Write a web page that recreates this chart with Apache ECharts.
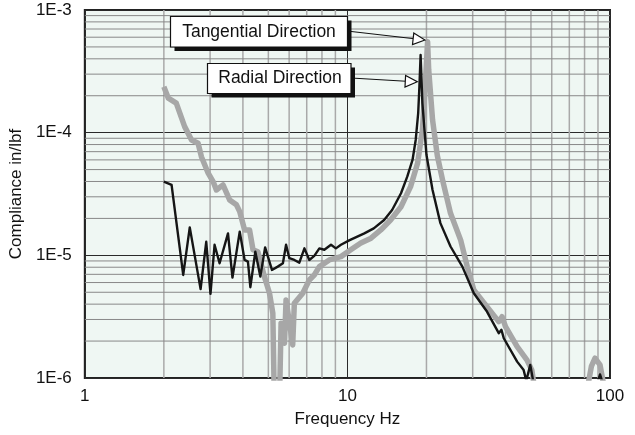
<!DOCTYPE html>
<html>
<head>
<meta charset="utf-8">
<script src="https://cdn.jsdelivr.net/npm/echarts@6/dist/echarts.min.js"></script>
<style>
html,body{margin:0;padding:0;background:#fff;}
#chart{width:635px;height:435px;}
</style>
</head>
<body>
<div id="chart"></div>
<script>
// ---- Data ----
const tangentialFreq = [2.00,2.08,2.23,2.40,2.55,2.70,2.78,2.95,3.08,3.17,3.36,3.56,3.78,3.89,4.06,4.24,4.37,4.56,4.83,5.05,5.20,5.28,5.50,5.59,5.76,5.84,6.19,6.28,6.76,7.16,7.48,7.82,8.53,9.45,10.3,11.25,12.3,13.4,14.6,16.0,17.4,18.5,19.3,19.7,20.0,20.2,20.4,21.1,22.0,23.1,24.7,27.0,28.6,30.3,34.0,37.7,38.8,40.0,44.3,48.3,50.4,51.5,60,80,83,85,87.7,91.6,94.0,100];
const tangentialVal = [2.37e-4,1.91e-4,1.74e-4,1.12e-4,8.72e-5,8.20e-5,6.37e-5,4.67e-5,3.99e-5,3.41e-5,3.75e-5,2.83e-5,2.58e-5,2.27e-5,1.61e-5,1.61e-5,1.11e-5,1.07e-5,6.71e-6,4.91e-6,3.37e-6,5e-7,5e-7,2.80e-6,1.92e-6,4.33e-6,1.86e-6,4.07e-6,4.91e-6,6.30e-6,6.92e-6,8.09e-6,9.17e-6,9.76e-6,1.11e-5,1.26e-5,1.38e-5,1.61e-5,1.94e-5,2.49e-5,3.63e-5,5.63e-5,1.05e-4,2.10e-4,3.68e-4,5.52e-4,3.24e-4,1.27e-4,6.5e-5,4.0e-5,2.2e-5,1.33e-5,8.09e-6,5.22e-6,3.82e-6,2.88e-6,3.16e-6,2.62e-6,1.80e-6,1.40e-6,1.16e-6,8.5e-7,5e-7,5e-7,9.5e-7,1.25e-6,1.45e-6,1.28e-6,9.5e-7,5e-7];

const radialFreq = [2.00,2.14,2.37,2.51,2.76,2.90,3.01,3.12,3.26,3.51,3.65,3.89,4.06,4.18,4.27,4.46,4.66,4.86,5.16,5.43,5.68,5.84,6.01,6.28,6.56,6.86,7.16,7.48,7.82,8.17,8.66,9.04,9.45,10.2,10.6,11.6,12.6,13.8,14.8,16.0,16.9,17.7,18.2,18.6,18.8,19.0,19.3,20.0,21.1,22.6,24.7,27.4,30.3,34.0,37.7,38.6,39.4,44.3,46.9,48.0,49.7,51.2,60,80,89.5,91.6,94.0,100];
const radialVal = [3.99e-5,3.75e-5,6.92e-6,1.69e-5,5.30e-6,1.29e-5,4.85e-6,1.22e-5,8.62e-6,1.51e-5,6.58e-6,1.56e-5,9.17e-6,8.89e-6,5.50e-6,1.07e-5,6.71e-6,1.16e-5,7.60e-6,8.09e-6,8.62e-6,1.22e-5,9.47e-6,9.17e-6,8.72e-6,1.14e-5,9.17e-6,9.89e-6,1.14e-5,1.11e-5,1.22e-5,1.14e-5,1.22e-5,1.33e-5,1.38e-5,1.51e-5,1.66e-5,1.94e-5,2.34e-5,3.21e-5,4.38e-5,5.99e-5,8.72e-5,1.44e-4,2.37e-4,4.30e-4,1.74e-4,6.6e-5,3.41e-5,1.83e-5,1.18e-5,8.09e-6,4.91e-6,3.48e-6,2.32e-6,2.47e-6,2.11e-6,1.36e-6,1.16e-6,9.5e-7,1.28e-6,9.0e-7,5e-7,5e-7,9e-7,1.07e-6,9e-7,5e-7];

const xMinorTicks = [2,3,4,5,6,7,8,9,20,30,40,50,60,70,80,90];
const yMinorTicks = [2e-6,3e-6,4e-6,5e-6,6e-6,7e-6,8e-6,9e-6,2e-5,3e-5,4e-5,5e-5,6e-5,7e-5,8e-5,9e-5,2e-4,3e-4,4e-4,5e-4,6e-4,7e-4,8e-4,9e-4];
const xRange = [1, 100];
const yRange = [1e-6, 1e-3];

const xAxisTitle = 'Frequency Hz';
const yAxisTitle = 'Compliance in/lbf';
const labelTangential = 'Tangential Direction';
const labelRadial = 'Radial Direction';

// ---- Chart ----
const FONT = 'Liberation Sans, Arial, Helvetica, sans-serif';
const zip = (a, b) => a.map((v, i) => [v, b[i]]);

const gridSeries = [];
xMinorTicks.forEach(v => gridSeries.push({
  type: 'line', z: 1, silent: true, symbol: 'none', showSymbol: false, clip: true,
  data: [[v, yRange[0]], [v, yRange[1]]],
  lineStyle: {color: '#a9a9a9', width: 1.5}
}));
yMinorTicks.forEach(v => gridSeries.push({
  type: 'line', z: 1, silent: true, symbol: 'none', showSymbol: false, clip: true,
  data: [[xRange[0], v], [xRange[1], v]],
  lineStyle: {color: '#888888', width: 1}
}));

const chart = echarts.init(document.getElementById('chart'), null, {renderer: 'canvas'});
chart.setOption({
  animation: false,
  backgroundColor: '#ffffff',
  textStyle: {fontFamily: FONT},
  tooltip: {show: false},
  grid: {left: 83, right: 25, top: 10, bottom: 57, show: true, backgroundColor: '#eff7f3', borderColor: '#222', borderWidth: 2},
  xAxis: {
    type: 'log', logBase: 10, min: xRange[0], max: xRange[1],
    name: xAxisTitle, nameLocation: 'middle', nameGap: 33,
    nameTextStyle: {fontSize: 17, color: '#111', fontFamily: FONT},
    axisLine: {show: false}, axisTick: {show: false},
    axisLabel: {fontSize: 17, color: '#111', margin: 10, fontFamily: FONT, formatter: v => String(Math.round(v))},
    splitLine: {show: true, lineStyle: {color: '#2a2a2a', width: 1}}
  },
  yAxis: {
    type: 'log', logBase: 10, min: yRange[0], max: yRange[1],
    name: yAxisTitle, nameLocation: 'middle', nameGap: 46, nameRotate: 90,
    nameTextStyle: {fontSize: 17, color: '#111', fontFamily: FONT},
    axisLine: {show: false}, axisTick: {show: false},
    axisLabel: {fontSize: 17, color: '#111', margin: 13, fontFamily: FONT, formatter: v => '1E' + Math.round(Math.log10(v))},
    splitLine: {show: true, lineStyle: {color: '#2a2a2a', width: 1}}
  },
  series: gridSeries.concat([
    {
      name: labelTangential, type: 'line', z: 3, data: zip(tangentialFreq, tangentialVal),
      showSymbol: false, symbol: 'none', smooth: false,
      lineStyle: {color: '#a7a7a7', width: 5.5, join: 'round'}
    },
    {
      name: labelRadial, type: 'line', z: 4, data: zip(radialFreq, radialVal),
      showSymbol: false, symbol: 'none', smooth: false,
      lineStyle: {color: '#151515', width: 2.4, join: 'round'}
    }
  ]),
  graphic: [
    {type: 'rect', z: 100, shape: {x: 174.5, y: 20.5, width: 177, height: 30.5}, style: {fill: '#111'}},
    {type: 'rect', z: 101, shape: {x: 170.5, y: 16.5, width: 177, height: 30.5}, style: {fill: '#fff', stroke: '#111', lineWidth: 1.2}},
    {type: 'text', z: 102, x: 259, y: 32, style: {text: labelTangential, fontSize: 17.5, fontFamily: FONT, fill: '#111', align: 'center', verticalAlign: 'middle'}},
    {type: 'line', z: 100, shape: {x1: 347, y1: 31, x2: 413, y2: 38.6}, style: {stroke: '#111', lineWidth: 1}},
    {type: 'polygon', z: 101, shape: {points: [[425, 40], [412.5, 44.5], [413.8, 33]]}, style: {fill: '#fff', stroke: '#111', lineWidth: 1.2}},

    {type: 'rect', z: 100, shape: {x: 211.5, y: 67.5, width: 143.5, height: 30}, style: {fill: '#111'}},
    {type: 'rect', z: 101, shape: {x: 207.5, y: 63.5, width: 143.5, height: 30}, style: {fill: '#fff', stroke: '#111', lineWidth: 1.2}},
    {type: 'text', z: 102, x: 280, y: 78.5, style: {text: labelRadial, fontSize: 17.5, fontFamily: FONT, fill: '#111', align: 'center', verticalAlign: 'middle'}},
    {type: 'line', z: 100, shape: {x1: 351, y1: 78, x2: 405, y2: 81.2}, style: {stroke: '#111', lineWidth: 1}},
    {type: 'polygon', z: 101, shape: {points: [[417.3, 81.7], [405, 87], [405.6, 75.5]]}, style: {fill: '#fff', stroke: '#111', lineWidth: 1.2}}
  ]
});
</script>
</body>
</html>
